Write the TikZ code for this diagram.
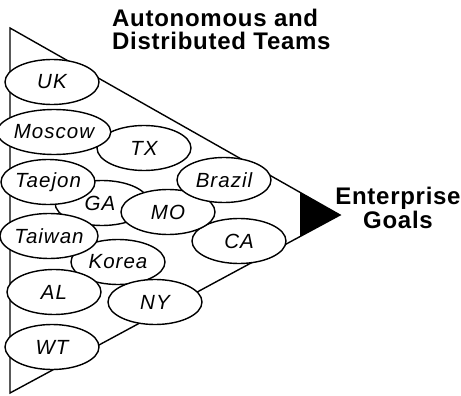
\documentclass[tikz,border=0pt]{standalone}
\usepackage{fontspec}
\setmainfont{Liberation Sans}
\newfontfamily\teamfont[LetterSpace=5]{Liberation Sans}
\newfontfamily\headfont[LetterSpace=3]{Liberation Sans}
\usetikzlibrary{shapes.geometric,calc}
\begin{document}
\begin{tikzpicture}[x=1pt,y=-1pt,
  team/.style={ellipse,draw,line width=1.4pt,fill=white,inner sep=0pt,
    minimum width=94pt,minimum height=45pt,
    font=\fontsize{20.5}{22}\selectfont\teamfont\itshape},
  heading/.style={font=\fontsize{24}{23}\selectfont\headfont\bfseries,inner sep=0pt}]
\useasboundingbox (0,0) rectangle (461,396);

% the funnel triangle
\coordinate (tl) at (10,28);
\coordinate (bl) at (10,393);
\coordinate (tip) at (340,215);
\coordinate (ct) at ($(tl)!290/330!(tip)$);
\coordinate (cb) at ($(bl)!290/330!(tip)$);
\fill (ct) -- (tip) -- (cb) -- cycle;
\draw[line width=1.4pt,line join=miter] (tl) -- (tip) -- (bl) -- cycle;

% team ellipses, back to front
\node[team] (uk) at (52,82) {UK};
\node[team] (tx) at (144,148) {TX};
\node[team] (moscow) at (54,132) {Moscow};
\node[team] (ga) at (102,203) {\hspace*{-4pt}GA};
\node[team] (taejon) at (48,182) {Taejon};
\node[team] (ca) at (239,241) {CA};
\node[team] (mo) at (168,212) {MO};
\node[team] (brazil) at (224,180) {Brazil};
\node[team] (korea) at (118,262) {Korea};
\node[team] (taiwan) at (49,236) {Taiwan};
\node[team] (ny) at (155,302) {NY};
\node[team] (al) at (54,292) {AL};
\node[team] (wt) at (52,347) {WT};

% headings (base anchor sits on the last line)
\node[heading,anchor=base west,align=left] (teams) at (112,50)
  {Autonomous and\\Distributed Teams};
\node[heading,anchor=base,align=center,font=\fontsize{24}{24}\selectfont\headfont\bfseries] (goals) at (398,228)
  {Enterprise\\Goals};
\end{tikzpicture}
\end{document}
